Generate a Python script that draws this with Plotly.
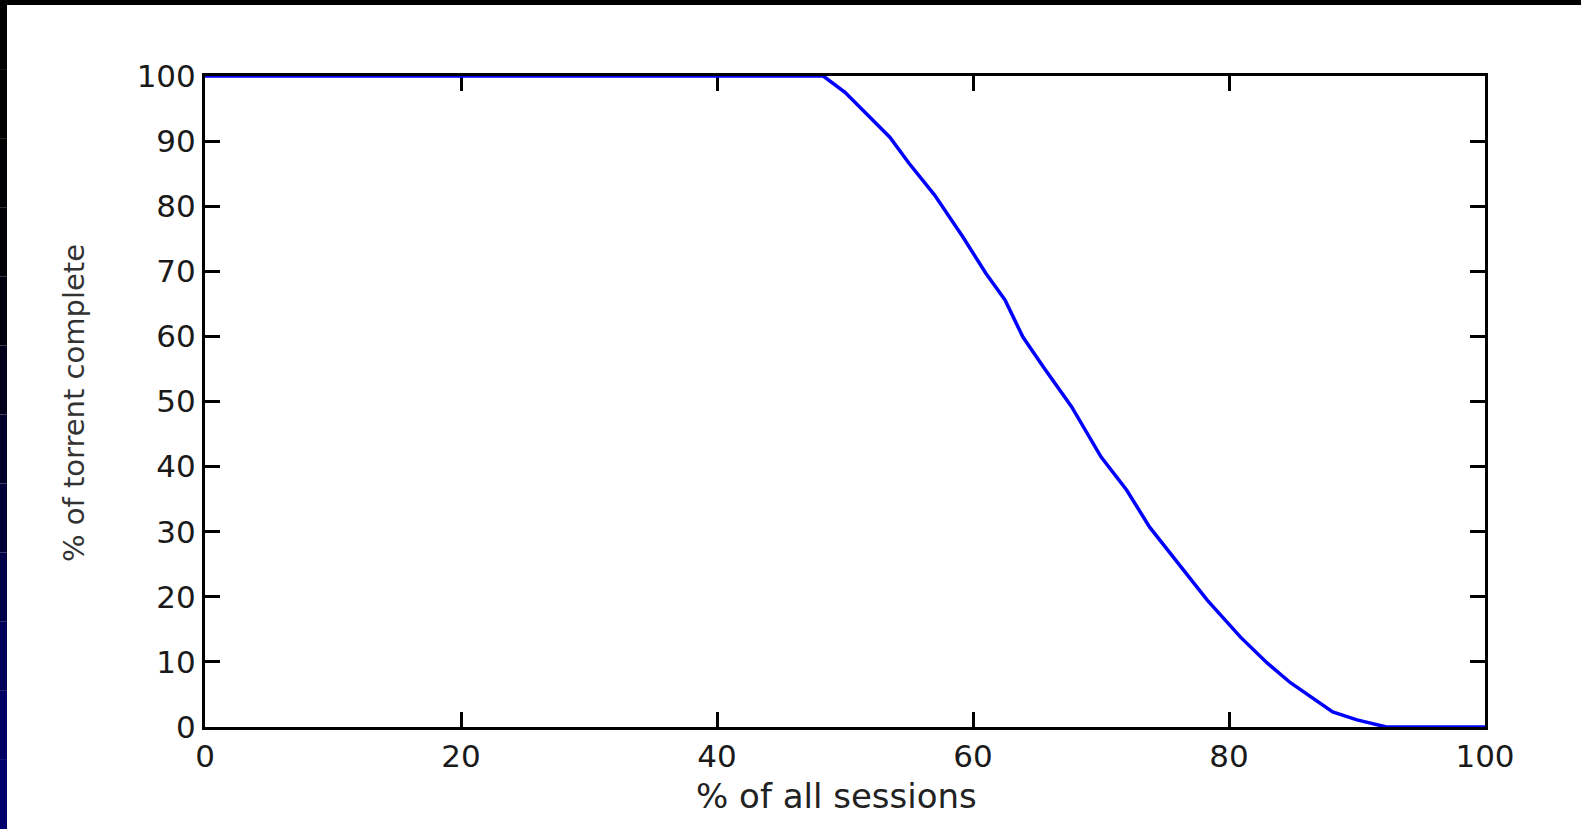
import plotly.graph_objects as go

# ---- data ----
x_sessions = [0, 48.3, 50, 53.5, 55, 57, 59.2, 61, 62.5, 63.9, 65.5, 67.7, 70, 72,
              73.8, 76, 78.3, 80.9, 83, 84.8, 86.5, 88.1, 90, 91.6, 92.3, 100]
y_complete = [100, 100, 97.5, 90.6, 86.6, 81.7, 75.3, 69.7, 65.6, 59.9, 55.3, 49.2,
              41.5, 36.4, 30.7, 25.2, 19.5, 13.8, 9.8, 6.8, 4.5, 2.3, 1.1, 0.3, 0, 0]
x_ticks = [0, 20, 40, 60, 80, 100]
y_ticks = [0, 10, 20, 30, 40, 50, 60, 70, 80, 90, 100]
x_title = "% of all sessions"
y_title = "% of torrent complete"

W, H = 1581, 829
L, R, T, B = 205, 96, 76, 102
PW, PH = W - L - R, H - T - B


def px_x(p):
    return (p - L) / PW


def px_y(p):
    return (H - B - p) / PH


fig = go.Figure()
fig.add_trace(go.Scatter(
    x=x_sessions, y=y_complete, mode="lines",
    line=dict(color="#0000ff", width=3.5, shape="linear"),
    cliponaxis=False, showlegend=False, hoverinfo="skip",
))

axis_common = dict(
    showline=True, linecolor="black", linewidth=3, mirror="ticks",
    ticks="inside", ticklen=15, tickwidth=2.5, tickcolor="black",
    showgrid=False, zeroline=False, layer="below traces",
    tickfont=dict(family="DejaVu Sans, Arial, sans-serif", size=31, color="#1a1a1a"),
)
fig.update_xaxes(range=[0, 100], tickvals=x_ticks, **axis_common)
fig.update_yaxes(range=[0, 100], tickvals=y_ticks, **axis_common)

shapes = []
# top black frame strip
shapes.append(dict(type="rect", xref="paper", yref="paper",
                   x0=px_x(0), x1=px_x(W), y0=px_y(5), y1=px_y(0),
                   fillcolor="black", line=dict(width=0), layer="above"))
# left dark strip (black to navy gradient)
grad = ["#000000", "#000000", "#000002", "#000006", "#00000e", "#00001a",
        "#000028", "#000038", "#000048", "#000058", "#000064", "#00006c"]
n = len(grad)
for i, c in enumerate(grad):
    shapes.append(dict(type="rect", xref="paper", yref="paper",
                       x0=px_x(0), x1=px_x(7),
                       y0=px_y(H * (i + 1) / n), y1=px_y(H * i / n),
                       fillcolor=c, line=dict(width=0), layer="above"))

annotations = [
    dict(text=x_title, xref="paper", yref="paper", x=px_x(836), y=px_y(796),
         showarrow=False, xanchor="center", yanchor="middle",
         font=dict(family="DejaVu Sans, Arial, sans-serif", size=34, color="#222")),
    dict(text=y_title, xref="paper", yref="paper", x=px_x(74), y=px_y(403),
         showarrow=False, xanchor="center", yanchor="middle", textangle=-90,
         font=dict(family="DejaVu Sans, Arial, sans-serif",
                   size=29, color="#333")),
]

fig.update_layout(
    width=W, height=H,
    margin=dict(l=L, r=R, t=T, b=B, autoexpand=False),
    paper_bgcolor="white", plot_bgcolor="white",
    shapes=shapes, annotations=annotations,
    showlegend=False,
)

fig.write_html("out.html", config={"displayModeBar": False},
               post_script="document.body.style.margin='0';document.body.style.overflow='hidden';")
